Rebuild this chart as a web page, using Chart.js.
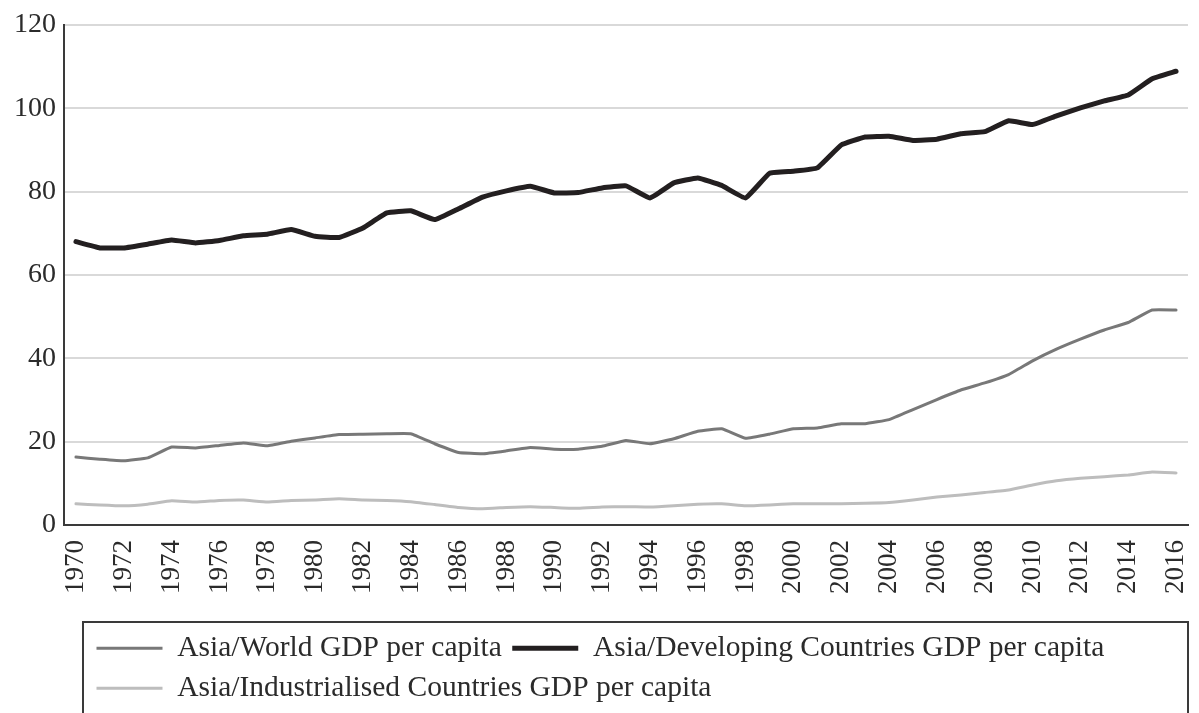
<!DOCTYPE html>
<html>
<head>
<meta charset="utf-8">
<script src="https://cdn.jsdelivr.net/npm/chart.js@4"></script>
<style>
  body { margin: 0; background: #fff; }
  canvas { display: block; }
</style>
</head>
<body>
<canvas id="gdpChart" width="1199" height="713"></canvas>
<script>
// Años del eje X
const years = [];
for (let y = 1970; y <= 2016; y++) years.push(String(y));

// Valores (ratios en %)
const asiaWorld = [16.3, 15.8, 15.4, 16.1, 18.7, 18.5, 19.1, 19.7, 19.0, 20.1,
                   20.9, 21.7, 21.8, 21.9, 21.9, 19.5, 17.4, 17.1, 17.8, 18.6,
                   18.2, 18.2, 18.9, 20.3, 19.5, 20.7, 22.5, 23.1, 20.8, 21.8,
                   23.1, 23.3, 24.3, 24.3, 25.3, 27.7, 30.1, 32.4, 34.1, 36.1,
                   39.4, 42.2, 44.6, 46.8, 48.6, 51.6, 51.6];
const asiaDeveloping = [68, 66.5, 66.5, 67.4, 68.4, 67.7, 68.3, 69.4, 69.8, 70.9,
                        69.3, 69, 71.3, 74.9, 75.4, 73.3, 75.9, 78.7, 80.2, 81.3,
                        79.7, 79.8, 80.9, 81.4, 78.5, 82.1, 83.3, 81.5, 78.5, 84.4,
                        84.9, 85.7, 91.2, 93.1, 93.3, 92.3, 92.6, 93.9, 94.4, 97,
                        96.1, 98.2, 100.1, 101.8, 103.2, 107.1, 108.9];
const asiaIndustrialised = [5.1, 4.8, 4.6, 5.0, 5.8, 5.5, 5.9, 6.0, 5.5, 5.9,
                            6.0, 6.3, 6.0, 5.9, 5.6, 4.9, 4.2, 3.9, 4.2, 4.4,
                            4.2, 4.0, 4.3, 4.4, 4.3, 4.6, 5.0, 5.1, 4.6, 4.8,
                            5.1, 5.1, 5.1, 5.2, 5.4, 6.0, 6.7, 7.2, 7.8, 8.4,
                            9.6, 10.6, 11.2, 11.6, 12.0, 12.7, 12.5];
const yTicks = [0, 20, 40, 60, 80, 100, 120];

const serif = "'Liberation Serif', 'DejaVu Serif', serif";

// Recuadro de la leyenda (solo decoración alrededor de la leyenda)
const legendFrame = {
    id: "legendFrame",
    afterLayout(chart) {
        chart.legend.left += 22;   // desplaza los elementos de la leyenda
    },
    afterDraw(chart) {
        const l = chart.legend;
        const ctx = chart.ctx;
        ctx.save();
        ctx.strokeStyle = "#3a3a3a";
        ctx.lineWidth = 2;
        ctx.strokeRect(l.left - 3, l.top - 1, chart.chartArea.right - (l.left - 3), l.height + 20);
        ctx.restore();
    }
};

const ctx = document.getElementById("gdpChart").getContext("2d");
new Chart(ctx, {
    type: "line",
    data: {
        labels: years,
        datasets: [
            { label: "Asia/World GDP per capita", data: asiaWorld,
              borderColor: "#787878", backgroundColor: "#787878", borderWidth: 3 },
            { label: "Asia/Developing Countries GDP per capita", data: asiaDeveloping,
              borderColor: "#231f20", backgroundColor: "#231f20", borderWidth: 5 },
            { label: "Asia/Industrialised Countries GDP per capita", data: asiaIndustrialised,
              borderColor: "#bdbdbd", backgroundColor: "#bdbdbd", borderWidth: 3 }
        ]
    },
    options: {
        responsive: false,
        animation: false,
        elements: { point: { radius: 0 }, line: { tension: 0.1, borderCapStyle: "round", borderJoinStyle: "round" } },
        layout: { padding: { top: 25, right: 11, left: 0, bottom: 0 } },
        plugins: {
            tooltip: { enabled: false },
            legend: {
                position: "bottom",
                align: "start",
                fullSize: false,
                labels: {
                    usePointStyle: true,
                    pointStyle: "line",
                    pointStyleWidth: 66,
                    padding: 10.5,
                    color: "#2b2b2b",
                    font: { family: serif, size: 29.5 }
                }
            }
        },
        scales: {
            x: {
                offset: true,
                grid: { display: false },
                border: { display: true, color: "#3a3a3a", width: 2 },
                ticks: {
                    autoSkip: false,
                    minRotation: 90,
                    maxRotation: 90,
                    padding: 7,
                    color: "#2b2b2b",
                    font: { family: serif, size: 27 },
                    callback: (v, i) => (Number(years[i]) % 2 === 0 ? years[i] : "")
                },
                afterFit: (s) => { s.height = 98; s.paddingRight = 0; }
            },
            y: {
                min: 0,
                max: 120,
                afterBuildTicks: (s) => { s.ticks = yTicks.map(v => ({ value: v })); },
                grid: { color: "#d9d9d9", lineWidth: 2, drawTicks: false },
                border: { display: true, color: "#3a3a3a", width: 2 },
                ticks: {
                    padding: 8,
                    color: "#2b2b2b",
                    font: { family: serif, size: 28 }
                },
                afterFit: (s) => { s.width = 64; }
            }
        }
    },
    plugins: [legendFrame]
});
</script>
</body>
</html>
